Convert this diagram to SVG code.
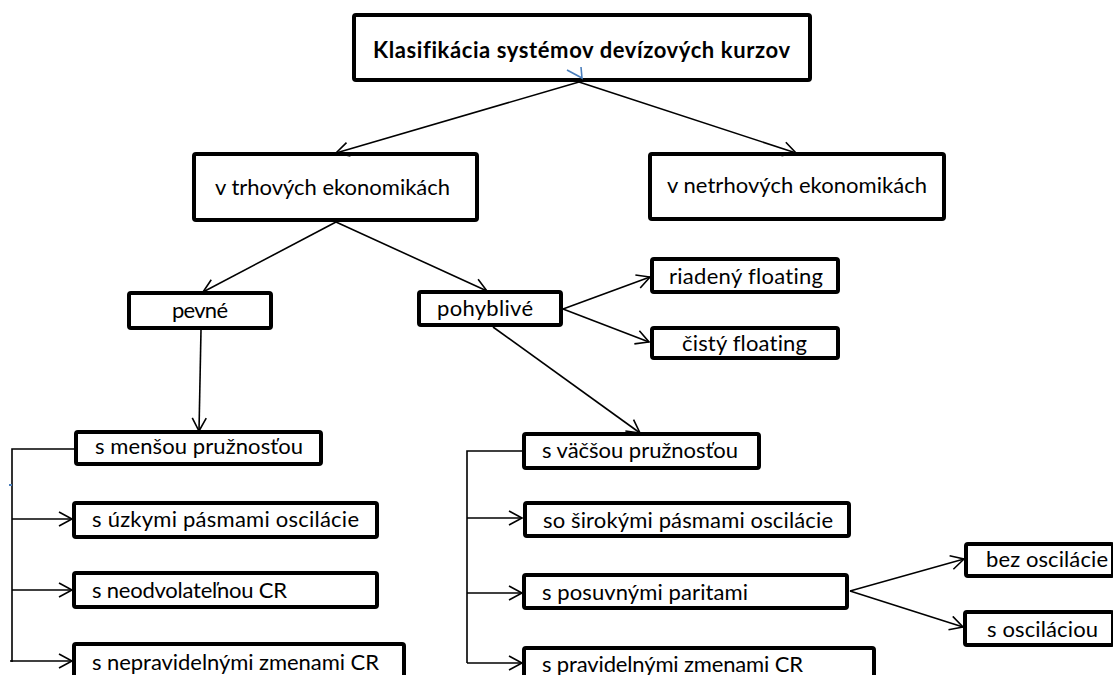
<svg xmlns="http://www.w3.org/2000/svg" width="1113" height="675" viewBox="0 0 1113 675">
<style>
.box{fill:#fff;stroke:#000;stroke-width:4;}
.t{font-family:Lato,"Liberation Sans",sans-serif;font-size:22px;fill:#000;font-variant-ligatures:none;}
.tb{font-family:Lato,"Liberation Sans",sans-serif;font-size:22px;font-weight:bold;fill:#000;font-variant-ligatures:none;}
.c{fill:none;stroke:#000;stroke-width:1.6;}
.ca{fill:none;stroke:#000;stroke-width:1.6;marker-end:url(#arr);}
</style>
<defs>
<marker id="arr" markerWidth="16" markerHeight="16" refX="14" refY="8" orient="auto" markerUnits="userSpaceOnUse">
<path d="M1,1 L14,8 L1,15" fill="none" stroke="#000" stroke-width="1.6"/>
</marker>
</defs>
<rect width="1113" height="675" fill="#fff"/>
<g id="title">
<rect class="box" x="354" y="15" width="456" height="65" rx="2"/>
<text class="tb" x="373" y="58" textLength="417" lengthAdjust="spacing">Klasifikácia systémov devízových kurzov</text>
</g>
<g id="trhove">
<rect class="box" x="194" y="154" width="283" height="66" rx="2"/>
<text class="t" x="215" y="195" textLength="235" lengthAdjust="spacing">v trhových ekonomikách</text>
</g>
<g id="netrhove">
<rect class="box" x="650" y="154" width="294" height="65" rx="2"/>
<text class="t" x="667" y="193" textLength="260" lengthAdjust="spacing">v netrhových ekonomikách</text>
</g>
<g id="riadeny">
<rect class="box" x="652" y="259" width="186" height="33" rx="2"/>
<text class="t" x="669" y="284" textLength="154" lengthAdjust="spacing">riadený floating</text>
</g>
<g id="cisty">
<rect class="box" x="652" y="328" width="186" height="30" rx="2"/>
<text class="t" x="682" y="351" textLength="125" lengthAdjust="spacing">čistý floating</text>
</g>
<g id="pevne">
<rect class="box" x="129" y="293" width="142" height="35" rx="2"/>
<text class="t" x="172" y="318" textLength="56" lengthAdjust="spacing">pevné</text>
</g>
<g id="pohyblive">
<rect class="box" x="419" y="292" width="142" height="33" rx="2"/>
<text class="t" x="437" y="316" textLength="96" lengthAdjust="spacing">pohyblivé</text>
</g>
<g id="mensou">
<rect class="box" x="76" y="432" width="245" height="32" rx="2"/>
<text class="t" x="95" y="454" textLength="208" lengthAdjust="spacing">s menšou pružnosťou</text>
</g>
<g id="uzkymi">
<rect class="box" x="74" y="503" width="303" height="34" rx="2"/>
<text class="t" x="92" y="527" textLength="267" lengthAdjust="spacing">s úzkymi pásmami oscilácie</text>
</g>
<g id="neodvolatelnou">
<rect class="box" x="74" y="573" width="303" height="34" rx="2"/>
<text class="t" x="92" y="598" textLength="195" lengthAdjust="spacing">s neodvolateľnou CR</text>
</g>
<g id="nepravidelnymi">
<rect class="box" x="74" y="644" width="330" height="40" rx="2"/>
<text class="t" x="92" y="670" textLength="287" lengthAdjust="spacing">s nepravidelnými zmenami CR</text>
</g>
<g id="vacsou">
<rect class="box" x="524" y="434" width="235" height="34" rx="2"/>
<text class="t" x="542" y="458" textLength="196" lengthAdjust="spacing">s väčšou pružnosťou</text>
</g>
<g id="sirokymi">
<rect class="box" x="525" y="503" width="324" height="33" rx="2"/>
<text class="t" x="543" y="528" textLength="290" lengthAdjust="spacing">so širokými pásmami oscilácie</text>
</g>
<g id="posuvnymi">
<rect class="box" x="524" y="575" width="323" height="33" rx="2"/>
<text class="t" x="542" y="600" textLength="206" lengthAdjust="spacing">s posuvnými paritami</text>
</g>
<g id="pravidelnymi">
<rect class="box" x="524" y="648" width="350" height="40" rx="2"/>
<text class="t" x="542" y="672" textLength="261" lengthAdjust="spacing">s pravidelnými zmenami CR</text>
</g>
<g id="bez">
<rect class="box" x="966" y="544" width="147" height="32" rx="2"/>
<text class="t" x="986" y="567" textLength="122" lengthAdjust="spacing">bez oscilácie</text>
</g>
<g id="soscilaciou">
<rect class="box" x="965" y="612" width="148" height="33" rx="2"/>
<text class="t" x="987" y="637" textLength="111" lengthAdjust="spacing">s osciláciou</text>
</g>
<g id="connectors">
<line class="ca" x1="579" y1="82" x2="336" y2="153"/>
<line class="ca" x1="579" y1="82" x2="796" y2="153"/>
<path d="M567,70 L582,78 L581,67" fill="none" stroke="#4a7ebb" stroke-width="1.6"/>
<line class="ca" x1="336" y1="222" x2="203" y2="292"/>
<line class="ca" x1="336" y1="222" x2="487" y2="291"/>
<line class="ca" x1="201" y1="330" x2="199" y2="431"/>
<line class="ca" x1="563" y1="309" x2="650" y2="277"/>
<line class="ca" x1="563" y1="309" x2="649" y2="342"/>
<line class="ca" x1="493" y1="327" x2="640" y2="433"/>
<polyline class="c" points="74,449 12,449 12,662"/>
<line class="ca" x1="12" y1="519" x2="72" y2="519"/>
<line class="ca" x1="12" y1="590" x2="72" y2="590"/>
<line class="ca" x1="10" y1="661" x2="72" y2="661"/>
<line x1="9" y1="485" x2="12" y2="485" stroke="#4a7ebb" stroke-width="2"/>
<polyline class="c" points="522,451 467,451 467,663"/>
<line class="ca" x1="467" y1="518" x2="522" y2="518"/>
<line class="ca" x1="467" y1="593" x2="522" y2="593"/>
<line class="ca" x1="467" y1="663" x2="522" y2="663"/>
<line class="ca" x1="850" y1="591" x2="964" y2="559"/>
<line class="ca" x1="850" y1="591" x2="963" y2="627"/>
</g>
</svg>
